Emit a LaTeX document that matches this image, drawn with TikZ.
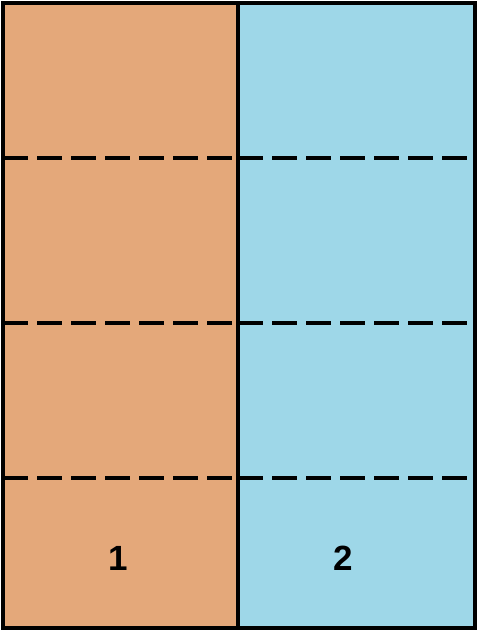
\documentclass[tikz,border=0pt]{standalone}
\usepackage{fontspec}
\setmainfont{Liberation Sans}
\definecolor{panelorange}{RGB}{228,168,122}
\definecolor{panelblue}{RGB}{158,215,232}
\begin{document}
\begin{tikzpicture}[x=1pt,y=-1pt,line width=4.5pt,every node/.style={font=\bfseries\fontsize{35}{35}\selectfont,inner sep=1pt}]
\useasboundingbox (0,0) rectangle (479,632);
\fill[panelorange] (3,3) rectangle (238,628);
\fill[panelblue] (238,3) rectangle (475,628);
\draw[dash pattern=on 25 off 9] (3,158) -- (238,158);
\draw[dash pattern=on 25 off 9] (3,323) -- (238,323);
\draw[dash pattern=on 25 off 9] (3,478) -- (238,478);
\draw[dash pattern=on 25 off 9] (238,158) -- (475,158);
\draw[dash pattern=on 25 off 9] (238,323) -- (475,323);
\draw[dash pattern=on 25 off 9] (238,478) -- (475,478);
\draw (238,3) -- (238,628);
\draw (3,3) rectangle (475,628);
\node (one) at (118,558) {1};
\node (two) at (343,558) {2};
\end{tikzpicture}
\end{document}
